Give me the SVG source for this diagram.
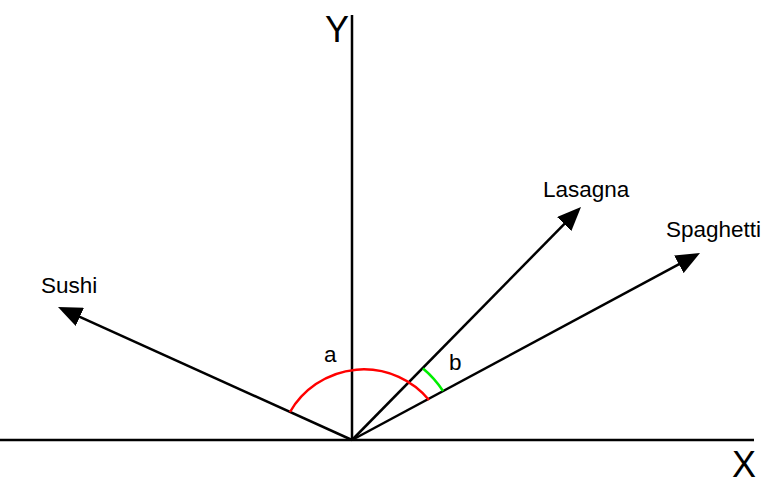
<svg xmlns="http://www.w3.org/2000/svg" width="766" height="479" viewBox="0 0 766 479">
<style>
.ax{stroke:#000;stroke-width:2.5;fill:none}
.vec{stroke:#000;stroke-width:2.5;fill:none;marker-end:url(#ah)}
.lbl{font-family:"Liberation Sans",Arial,sans-serif;font-size:22.5px;fill:#000}
.big{font-family:"Liberation Sans",Arial,sans-serif;font-size:36px;fill:#000}
</style>
<defs>
<marker id="ah" viewBox="0 0 24 20" refX="14" refY="10" markerWidth="24" markerHeight="20" markerUnits="userSpaceOnUse" orient="auto">
<path d="M0,0 L24,10 L0,20 z" fill="#000"/>
</marker>
</defs>
<rect width="766" height="479" fill="#fff"/>
<g id="axes">
<line class="ax" x1="0" y1="440" x2="754" y2="440"/>
<line class="ax" x1="352" y1="15" x2="352" y2="440"/>
<text class="big" x="325" y="42">Y</text>
<text class="big" x="732" y="477">X</text>
</g>
<g id="connectors">
<line class="vec" x1="352" y1="440" x2="574" y2="214.1"/>
<line class="vec" x1="352" y1="440" x2="691.2" y2="257.7"/>
<line class="vec" x1="352" y1="440" x2="67.1" y2="311.1"/>
</g>
<g id="angle-a">
<path d="M290,412 A85,85 0 0,1 429,400" stroke="#ff0000" stroke-width="2.5" fill="none"/>
<text class="lbl" x="324" y="362">a</text>
</g>
<g id="angle-b">
<path d="M423,368.5 A101,101 0 0,1 443,391" stroke="#00ee00" stroke-width="2.5" fill="none"/>
<text class="lbl" x="449" y="370">b</text>
</g>
<g id="lasagna"><text class="lbl" x="543" y="197">Lasagna</text></g>
<g id="spaghetti"><text class="lbl" x="666" y="237">Spaghetti</text></g>
<g id="sushi"><text class="lbl" x="41" y="293">Sushi</text></g>
</svg>
